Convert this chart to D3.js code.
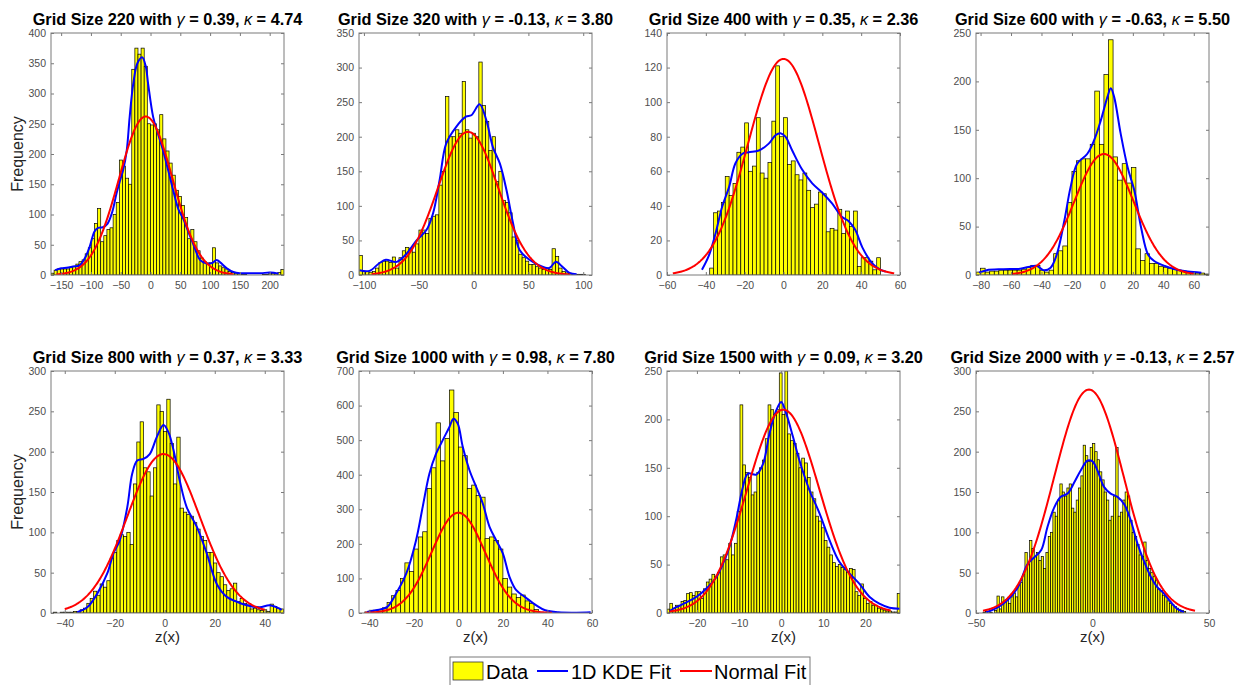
<!DOCTYPE html>
<html>
<head>
<meta charset="utf-8">
<script src="https://cdn.jsdelivr.net/npm/d3@7"></script>
<style>
  body { margin: 0; background: #fff; }
  svg  { display: block; font-family: "Liberation Sans", Arial, sans-serif; }
</style>
</head>
<body>
<svg id="chart" width="1247" height="685"></svg>
<script>

/*********************/
/*** DATA (read off) */
/*********************/

let gridSizes = [220, 320, 400, 600, 800, 1000, 1500, 2000];
let skewness  = ["0.39", "-0.13", "0.35", "-0.63", "0.37", "0.98", "0.09", "-0.13"];
let kurtosis  = ["4.74", "3.80", "2.36", "5.50", "3.33", "7.80", "3.20", "2.57"];

let xLimits = [[-167, 224], [-104.5, 108], [-60, 60], [-83, 70],
               [-45.5, 47.7], [-44.6, 60], [-27.1, 28.2], [-50, 50]];
let yMax    = [400, 350, 140, 250, 300, 700, 250, 300];
let yStep   = [50, 50, 20, 50, 50, 100, 50, 50];
let xTicks  = [
    [-150, -100, -50, 0, 50, 100, 150, 200],
    [-100, -50, 0, 50, 100],
    [-60, -40, -20, 0, 20, 40, 60],
    [-80, -60, -40, -20, 0, 20, 40, 60],
    [-40, -20, 0, 20, 40],
    [-40, -20, 0, 20, 40, 60],
    [-20, -10, 0, 10, 20],
    [-50, 0, 50]
];

// histogram bins: first edge and width, counts per bin
let binStart = [-167, -104.5, -38, -83, -44.5, -42, -27.1, -47];
let binWidth = [5.213, 3.036, 2, 3, 1.333, 2, 0.6663, 1];

let counts220 = [3,8,10,10,10,10,12,14,18,22, 25,35,45,60,85,110,55,65,75,78,
    100,120,190,180,160,150,340,375,365,375, 345,250,248,250,240,265,225,205,185,165,
    140,130,115,95,60,75,55,40,28,22, 20,20,45,20,15,12,10,6,4,3,
    2,1,1,0,0,0,0,0,1,1, 2,3,2,4,9];
let counts320 = [28,5,5,4,5,10,18,20,20,18, 26,10,25,35,40,38,33,45,65,65,
    60,82,85,87,130,150,258,200,200,210, 205,280,210,198,205,200,308,245,222,180,
    200,135,150,108,105,90,55,50,30,25, 20,15,15,12,10,8,10,8,38,27,
    10,5,3,2,1,1,1,1,0,0];
let counts400 = [4,36,37,42,57,46,53,71,74,88, 60,63,91,59,56,65,89,121,80,91,
    64,66,58,55,59,49,39,41,48,47, 25,27,26,38,24,37,28,37,5,10, 10,8,3,10];
let counts600 = [3,7,3,4,4,5,5,5,5,5, 6,8,10,10,5,3,5,22,25,30,
    75,107,118,120,120,135,190,135,207,243, 122,98,115,95,111,27,15,22,12,12,
    9,8,7,6,5,4,3,2,2,2, 1];
let counts800 = [1,0,1,1,1,1,2,2,4,6, 12,18,27,22,36,32,40,68,75,90,
    97,95,100,85,160,212,237,180,175,145, 180,258,250,225,265,210,160,218,130,125,
    122,120,112,104,95,90,75,75,62,50, 45,35,28,30,37,14,18,12,10,5,
    6,4,3,4,2,11,8,6,5];
let counts1000 = [3,8,8,10,15,30,50,65,100,145, 120,185,220,235,360,420,550,440,505,645,
    580,480,455,360,370,340,335,215,220,210, 185,100,75,55,45,52,35,28,10];
let counts1500 = [4,10,5,8,8,12,13,20,21,18, 22,22,15,25,32,35,40,38,42,58,
    60,55,72,60,72,105,215,153,145,140, 122,125,145,150,158,180,215,210,205,210,
    248,205,250,185,178,175,165,150,160,155, 140,125,118,100,95,88,75,68,60,52,
    48,50,47,45,42,46,45,22,18,30, 15,10,12,8,8,5,4,3,2,2, 1,1,20];
let counts2000 = [1,2,2,1,0,3,21,5,20,15, 16,12,20,25,20,35,38,48,75,60,
    90,80,70,75,65,70,55,75,95,100, 125,120,140,160,150,145,155,160,130,125,
    140,155,170,208,195,188,205,210,200,190, 175,165,150,140,115,120,145,205,120,125,
    140,150,145,115,100,95,85,72,70,88, 65,55,50,45,40,30,28,22,20,15,
    12,10,8,6,4,3,2];

// 1D KDE fit, [x, frequency] points
let kde220 = [[-160,8],[-150,11],[-141,12],[-130,14],[-119,16],[-110,28],[-102,47],[-94,72],
    [-88,78],[-80,79],[-72,85],[-64,105],[-57,135],[-50,160],[-46,173],[-40,205],[-35,261],
    [-29,316],[-22,350],[-14,360],[-8,345],[-4,316],[4.5,261],[12,235],[21,206],[30,172],
    [38,140],[47,108],[55,93],[62,75],[69,58],[76,40],[83,25],[94,19],[104,20],[111,25],
    [118,20],[128,11],[139,5],[150,3],[167,3],[185,3],[201,4],[215,2]];
let kde320 = [[-104,7],[-95,6],[-86,17],[-80,22],[-70,19],[-61,31],[-52,50],[-43,65],[-37,89],
    [-31,137],[-25,190],[-16,214],[-7,229],[-2,231],[5.5,247],[11.6,224],[17.6,185],[24,161],
    [30,123],[36,75],[42,36],[51,22],[60,14],[69,10],[75,19],[81,12],[87.5,3],[94,1]];
let kde400 = [[-42,3],[-38.5,11],[-35,24],[-31.6,39.5],[-28,51],[-24.8,64.5],[-21.3,70],[-18,71],
    [-12.7,72],[-7.6,76],[-4,81],[-1.5,82],[1,80],[4.5,72],[9.6,61],[14.8,53],[20,47.6],
    [25,41.4],[30,33.7],[33.7,31],[37,26],[40.6,16],[45.7,6.7],[50,3],[52.6,2]];
let kde600 = [[-81,2.4],[-76,5],[-65,6],[-54,6.5],[-47.6,8.6],[-43,9.3],[-38.7,5],[-34,7.6],
    [-30,21],[-25,56],[-21,90],[-16.6,115],[-10,125],[-5.5,139],[-1,160],[3.3,184],[5.5,193],
    [7.7,184],[12,146],[16.6,111],[21,87],[25.4,49],[30,21],[34,14.5],[41,9.3],[47.6,6],
    [56,3.5],[65,2.4]];
let kde800 = [[-35,1],[-31,7],[-27,24],[-23,49],[-20.5,74],[-18,90],[-15,131],[-13,173],[-11,189],
    [-8.5,191],[-6,197],[-3.2,218],[-0.5,233],[1.5,224],[3.5,202],[6,164],[8.8,131],[12.8,107],
    [16.8,74],[20.8,36],[24.8,20],[28.8,14],[32.8,9.5],[38,7],[42,9.5],[46.8,4]];
let kde1000 = [[-41,3],[-37,8],[-32,17],[-28,56],[-23.4,114],[-19,210],[-16,307],[-13,403],
    [-10,461],[-7,500],[-4,538],[-2.2,562],[-0.3,548],[2,480],[5,413],[8,365],[11,316],[14,249],
    [17,210],[20,172],[23,104],[26,66],[30,46],[35,22],[39,8],[45,2],[53,1],[59.4,2]];
let kde1500 = [[-26.5,2],[-24.9,6],[-22.5,11],[-20,17],[-17.8,25],[-15.4,37],[-13.8,51],[-12.3,68],
    [-10.7,96],[-9.1,130],[-7.9,144],[-5.9,143],[-4.3,154],[-2.8,185],[-1.2,209],[0,218],
    [1.2,206],[2.8,182],[4.3,158],[6.7,127],[9.1,103],[11.5,75],[13.8,53],[16.2,41],[18.6,30],
    [21,16.5],[23.3,9.6],[25.7,5.5],[28.1,4.5]];
let kde2000 = [[-45.6,1],[-40.7,7],[-36.4,16],[-32,32],[-27.8,61],[-25,69],[-22,78],[-19.3,107],
    [-16.4,131],[-13.6,144],[-10.7,148],[-7.8,162],[-5,177],[-2.1,189],[0,188],[2.1,177],
    [5,156],[7.8,148],[10.7,144],[13.6,135],[16.4,115],[19.3,86],[22,65],[25,45],[27.8,32],
    [30.7,24],[33.5,14],[36.4,5],[39.2,1]];

// normal fit: [mean, sigma, peak frequency, x from, x to]
let normalFit = [[-8, 45, 262, -158, 139], [-5, 27.6, 207, -93, 88], [0, 18.3, 125, -57, 57],
    [1, 19.5, 125, -59, 60], [-0.5, 14.5, 197, -40, 40], [0, 12, 290, -42, 42],
    [0.5, 8.6, 210, -26.5, 26], [-1.5, 15, 277, -47, 44]];

let allCounts = [counts220, counts320, counts400, counts600, counts800, counts1000, counts1500, counts2000];
let allKde    = [kde220, kde320, kde400, kde600, kde800, kde1000, kde1500, kde2000];

/*********************/
/*** INIT VARIABLE ***/
/*********************/

let colLeft = [51, 359, 667, 976],
    rowTop  = [33, 371],
    plotW   = 233,
    plotH   = 242;

let svg = d3.select("#chart");
svg.append("rect").attr("width", 1247).attr("height", 685).attr("fill", "#fff");

let axisColor = "#7a7a7a",
    tickColor = "#4d4d4d";

/********************************/
/*** DRAW ONE HISTOGRAM PANEL ***/
/********************************/

function drawPanel(i) {
    let left = colLeft[i % 4],
        top  = rowTop[Math.floor(i / 4)];

    let x = d3.scaleLinear().domain(xLimits[i]).range([0, plotW]),
        y = d3.scaleLinear().domain([0, yMax[i]]).range([plotH, 0]);

    let g = svg.append("g").attr("transform", `translate(${left},${top})`);

    // clip so tall bars / curve ends stay inside the box
    g.append("clipPath").attr("id", "clip" + i)
        .append("rect").attr("width", plotW).attr("height", plotH);
    let inner = g.append("g").attr("clip-path", `url(#clip${i})`);

    // bars
    let bins = allCounts[i].map((c, k) => ({
        x0: binStart[i] + k * binWidth[i],
        x1: binStart[i] + (k + 1) * binWidth[i],
        c: c
    }));
    inner.selectAll("rect.bar").data(bins).enter().append("rect")
        .attr("class", "bar")
        .attr("x", d => x(d.x0))
        .attr("width", d => x(d.x1) - x(d.x0))
        .attr("y", d => y(d.c))
        .attr("height", d => y(0) - y(d.c))
        .attr("fill", "#ffff00")
        .attr("stroke", "#000")
        .attr("stroke-width", 0.7);

    // normal fit
    let nf = normalFit[i];
    let step = (nf[4] - nf[3]) / 200;
    let normPts = d3.range(nf[3], nf[4] + step / 2, step)
        .map(v => [v, nf[2] * Math.exp(-Math.pow(v - nf[0], 2) / (2 * nf[1] * nf[1]))]);

    let line = d3.line().x(d => x(d[0])).y(d => y(d[1]));

    inner.append("path").datum(allKde[i])
        .attr("d", line.curve(d3.curveCatmullRom.alpha(0.5)))
        .attr("fill", "none").attr("stroke", "#0000ff").attr("stroke-width", 2);

    inner.append("path").datum(normPts)
        .attr("d", d3.line().x(d => x(d[0])).y(d => y(d[1])))
        .attr("fill", "none").attr("stroke", "#ff0000").attr("stroke-width", 2);

    // axes, ticks pointing inward (MATLAB style), mirrored top/right
    let yTicks = d3.range(0, yMax[i] + 1e-9, yStep[i]);

    g.append("g").attr("transform", `translate(0,${plotH})`)
        .call(d3.axisBottom(x).tickValues(xTicks[i]).tickSize(-3).tickPadding(7));
    g.append("g")
        .call(d3.axisLeft(y).tickValues(yTicks).tickSize(-3).tickPadding(5));
    g.append("g").call(d3.axisTop(x).tickValues(xTicks[i]).tickSize(-3).tickFormat(""));
    g.append("g").attr("transform", `translate(${plotW},0)`)
        .call(d3.axisRight(y).tickValues(yTicks).tickSize(-3).tickFormat(""));

    g.selectAll(".domain").remove();
    g.selectAll(".tick line").attr("stroke", axisColor);
    g.selectAll(".tick text").attr("fill", tickColor).attr("font-size", "10.5px")
        .attr("font-family", '"Liberation Sans", Arial, sans-serif');

    g.append("rect").attr("width", plotW).attr("height", plotH)
        .attr("fill", "none").attr("stroke", axisColor).attr("stroke-width", 1);

    // title
    let t = g.append("text")
        .attr("x", plotW / 2).attr("y", -8)
        .attr("text-anchor", "middle")
        .attr("font-size", "16.3px").attr("font-weight", "bold").attr("fill", "#000");
    t.append("tspan").text(`Grid Size ${gridSizes[i]} with `);
    t.append("tspan").attr("font-style", "italic").attr("font-weight", "normal").text("\u03b3");
    t.append("tspan").text(` = ${skewness[i]}, `);
    t.append("tspan").attr("font-style", "italic").attr("font-weight", "normal").text("\u03ba");
    t.append("tspan").text(` = ${kurtosis[i]}`);

    // axis labels
    if (i % 4 === 0) {
        g.append("text")
            .attr("transform", `translate(${23 - left},${plotH / 2}) rotate(-90)`)
            .attr("text-anchor", "middle")
            .attr("font-size", "16px").attr("fill", "#262626")
            .text("Frequency");
    }
    if (i >= 4) {
        g.append("text")
            .attr("x", plotW / 2).attr("y", plotH + 29)
            .attr("text-anchor", "middle")
            .attr("font-size", "15px").attr("fill", "#262626")
            .text("z(x)");
    }
}

/******************/
/*** INIT PLOTS ***/
/******************/

for (let i = 0; i < 8; i++) drawPanel(i);

/**************/
/*** LEGEND ***/
/**************/

let leg = svg.append("g");
leg.append("rect").attr("x", 450).attr("y", 657).attr("width", 360).attr("height", 34)
    .attr("fill", "#fff").attr("stroke", axisColor).attr("stroke-width", 1);

leg.append("rect").attr("x", 453).attr("y", 662).attr("width", 30).attr("height", 18)
    .attr("fill", "#ffff00").attr("stroke", "#333").attr("stroke-width", 0.8);
leg.append("text").attr("x", 486).attr("y", 679).attr("font-size", "20px").text("Data");

leg.append("line").attr("x1", 537).attr("x2", 568).attr("y1", 671).attr("y2", 671)
    .attr("stroke", "#0000ff").attr("stroke-width", 2);
leg.append("text").attr("x", 571).attr("y", 679).attr("font-size", "20px").text("1D KDE Fit");

leg.append("line").attr("x1", 680).attr("x2", 712).attr("y1", 671).attr("y2", 671)
    .attr("stroke", "#ff0000").attr("stroke-width", 2);
leg.append("text").attr("x", 714).attr("y", 679).attr("font-size", "20px").text("Normal Fit");

</script>
</body>
</html>
